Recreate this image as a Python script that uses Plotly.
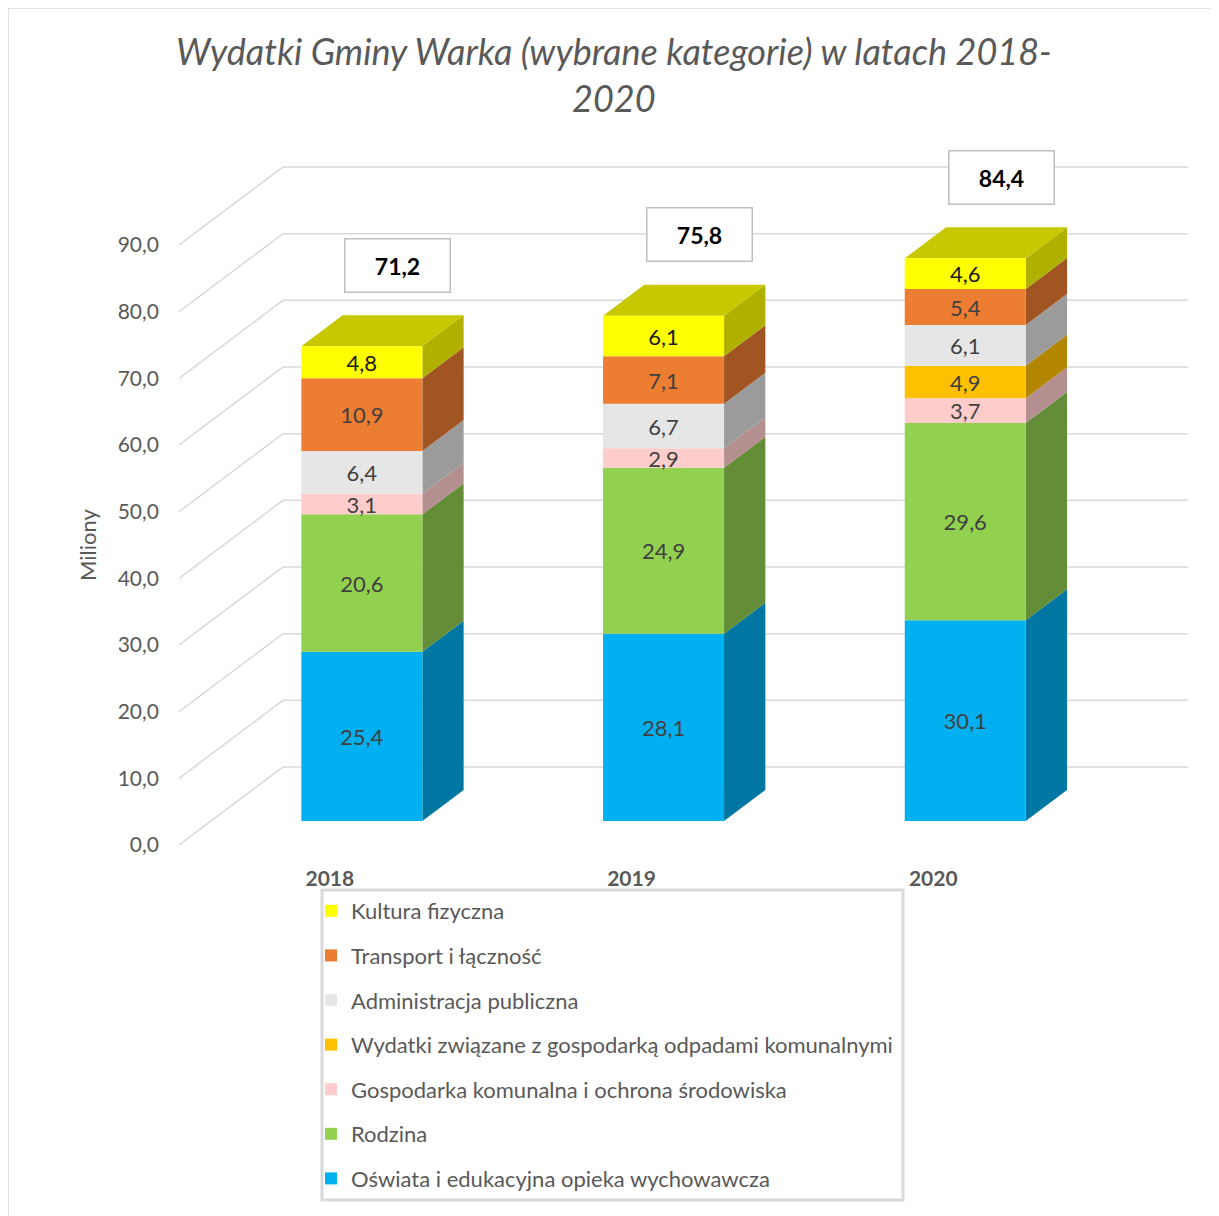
import plotly.graph_objects as go

# --- data ---------------------------------------------------------------
years = ["2018", "2019", "2020"]
series_names = [
    "Oświata i edukacyjna opieka wychowawcza",
    "Rodzina",
    "Gospodarka komunalna i ochrona środowiska",
    "Wydatki związane z gospodarką odpadami komunalnymi",
    "Administracja publiczna",
    "Transport i łączność",
    "Kultura fizyczna",
]
oswiata = [25.4, 28.1, 30.1]
rodzina = [20.6, 24.9, 29.6]
gospodarka = [3.1, 2.9, 3.7]
odpady = [None, None, 4.9]
administracja = [6.4, 6.7, 6.1]
transport = [10.9, 7.1, 5.4]
kultura = [4.8, 6.1, 4.6]
totals = [71.2, 75.8, 84.4]
y_ticks = [0, 10, 20, 30, 40, 50, 60, 70, 80, 90]
y_tick_text = ["0,0", "10,0", "20,0", "30,0", "40,0", "50,0", "60,0", "70,0", "80,0", "90,0"]

series = [oswiata, rodzina, gospodarka, odpady, administracja, transport, kultura]
front_colors = ["#00B0F0", "#92D050", "#FFCCCC", "#FFC000", "#E6E6E6", "#ED7D31", "#FFFF00"]
side_colors = ["#0077A3", "#638D37", "#B38F8F", "#B38600", "#9B9B9B", "#A05522", "#B0B000"]
label_colors = ["#404040"] * 6 + ["#1A1A1A"]
top_color = "#C8C800"

# --- geometry (fake 3D, oblique projection) -------------------------------
OFF = 8               # page body margin
W, H = 1219 - OFF, 1216 - OFF
ML, MR = 179 - OFF, 1219 - 1188
MT, MB = 150 - OFF, 1216 - 860
PW, PH = W - ML - MR, H - MT - MB
PX_X = 301.7          # pixels per category
PX_Y = 600 / 90       # pixels per million
x_range = [-0.5, -0.5 + PW / PX_X]
y_lo = -15 / PX_Y
y_range = [y_lo, y_lo + PH / PX_Y]

DX, DY = 104 / PX_X, 78 / PX_Y          # full depth of the floor
FX, FY = 0.3077 * DX, 0.3077 * DY       # front face of bars
BX, BY = 0.397 * DX, 0.397 * DY         # bar depth
BAR_W = 121 / PX_X


def pxx(p):
    return (p - OFF - ML) / PW


def pxy(p):
    return 1 - (p - OFF - MT) / PH


fig = go.Figure()
shapes = []

# gridlines: left wall diagonal + back wall
for v in y_ticks:
    shapes.append(dict(
        type="path", xref="x", yref="y", layer="below",
        path=f"M{x_range[0]},{v} L{x_range[0] + DX},{v + DY} L{x_range[1]},{v + DY}",
        line=dict(color="#D9D9D9", width=1.5),
    ))

bases = [0.0, 0.0, 0.0]
for k, (name, vals, fc, sc, lc) in enumerate(zip(series_names, series, front_colors, side_colors, label_colors)):
    xs = [i + FX for i in range(len(years))]
    b = [bases[i] + FY for i in range(len(years))]
    fig.add_trace(go.Bar(
        x=xs, y=vals, base=b, width=BAR_W, name=name, legendgroup=name,
        legendrank=100 - k,
        marker=dict(color=fc, line=dict(width=0)),
        texttemplate="%{y:.1f}", textposition="inside", insidetextanchor="middle",
        constraintext="none", textangle=0,
        textfont=dict(family="Lato", size=22, color=lc),
        hoverinfo="skip",
    ))
    for i, v in enumerate(vals):
        if not v:
            continue
        xr = i + FX + BAR_W / 2
        y0, y1 = bases[i] + FY, bases[i] + FY + v
        shapes.append(dict(
            type="path", xref="x", yref="y", layer="below",
            path=f"M{xr},{y0} L{xr + BX},{y0 + BY} L{xr + BX},{y1 + BY} L{xr},{y1} Z",
            fillcolor=sc, line=dict(width=0),
        ))
        bases[i] += v

# top faces
for i, t in enumerate(totals):
    xl, xr = i + FX - BAR_W / 2, i + FX + BAR_W / 2
    yt = t + FY
    shapes.append(dict(
        type="path", xref="x", yref="y", layer="below",
        path=f"M{xl},{yt} L{xr},{yt} L{xr + BX},{yt + BY} L{xl + BX},{yt + BY} Z",
        fillcolor=top_color, line=dict(width=0),
    ))

# legend frame and outer frame
shapes.append(dict(type="rect", xref="paper", yref="paper",
                   x0=pxx(322), x1=pxx(903), y0=pxy(890), y1=pxy(1200),
                   line=dict(color="#D9D9D9", width=3), fillcolor="white", layer="below"))
shapes.append(dict(type="rect", xref="paper", yref="paper",
                   x0=pxx(8), x1=pxx(1215), y0=pxy(8), y1=pxy(1220),
                   line=dict(color="#D9D9D9", width=1.5), layer="below"))

annotations = []
for i, t in enumerate(totals):
    annotations.append(dict(
        x=i + 0.225, y=t + 15.8, xref="x", yref="y",
        xanchor="center", yanchor="middle",
        text=f"<b>{t:.1f}</b>".replace(".", ","), showarrow=False,
        font=dict(family="Lato", size=23, color="#000000"),
        bgcolor="white", bordercolor="#BFBFBF", borderwidth=1.5,
        width=102, height=50, borderpad=1,
    ))

annotations.append(dict(
    x=pxx(614), y=pxy(75), xref="paper", yref="paper", showarrow=False,
    xanchor="center", yanchor="middle",
    text="<i>Wydatki Gminy Warka (wybrane kategorie) w latach 2018-<br>2020</i>",
    font=dict(family="Lato", size=36, color="#595959"),
))
annotations.append(dict(
    x=pxx(87), y=pxy(545), xref="paper", yref="paper", showarrow=False,
    xanchor="center", yanchor="middle",
    text="Miliony", textangle=-90,
    font=dict(family="Lato", size=22, color="#595959"),
))

fig.update_layout(
    width=W, height=H,
    margin=dict(l=ML, r=MR, t=MT, b=MB, autoexpand=False),
    paper_bgcolor="white", plot_bgcolor="rgba(0,0,0,0)",
    barmode="overlay", separators=", ",
    shapes=shapes, annotations=annotations,
    showlegend=True,
    legend=dict(
        xref="container", yref="container",
        x=(311 - OFF) / W, y=1 - (890 - OFF) / H, xanchor="left", yanchor="top",
        traceorder="grouped", tracegroupgap=13,
        bgcolor="rgba(0,0,0,0)", borderwidth=0,
        font=dict(family="Lato", size=22, color="#595959"),
    ),
    xaxis=dict(range=x_range, tickvals=[0, 1, 2], ticktext=[f"<b>{y}</b>" for y in years],
               showgrid=False, zeroline=False, showline=False, ticks="",
               ticklabelstandoff=4,
               tickfont=dict(family="Lato", size=21, color="#595959")),
    yaxis=dict(range=y_range, tickvals=y_ticks, ticktext=y_tick_text,
               showgrid=False, zeroline=False, showline=False, ticks="",
               ticklabelstandoff=19,
               tickfont=dict(family="Lato", size=21, color="#595959")),
)

fig.write_html("out.html")
